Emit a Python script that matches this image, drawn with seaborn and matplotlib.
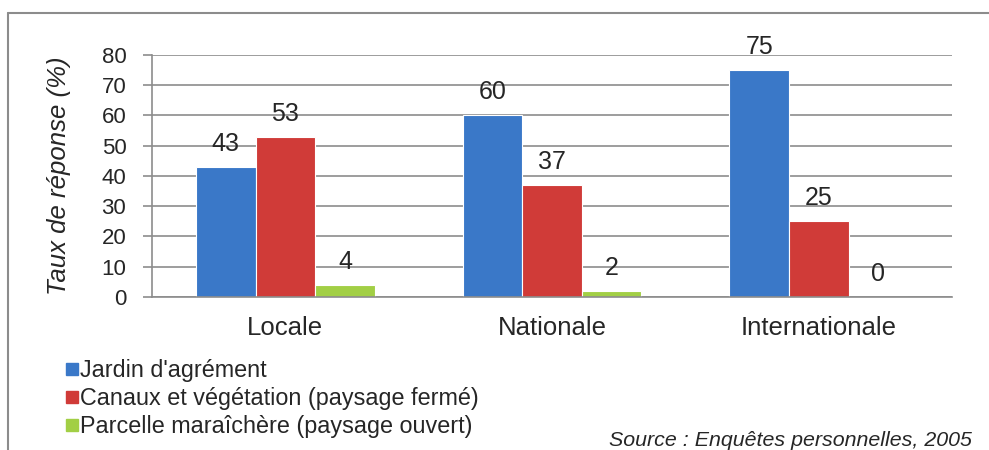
import pandas as pd
import matplotlib.pyplot as plt
import seaborn as sns
from matplotlib.lines import Line2D

# Chart data
categories = ["Locale", "Nationale", "Internationale"]
series_names = ["Jardin d'agrément",
                "Canaux et végétation (paysage fermé)",
                "Parcelle maraîchère (paysage ouvert)"]
jardin = [43, 60, 75]
canaux = [53, 37, 25]
parcelle = [4, 2, 0]
colors = ["#3a78c8", "#d03b38", "#a2cf45"]

rows = []
for name, vals in zip(series_names, [jardin, canaux, parcelle]):
    for cat, v in zip(categories, vals):
        rows.append({"Portée": cat, "Type": name, "Taux": v})
df = pd.DataFrame(rows)

sns.set_style("white")
plt.rcParams['font.family'] = ['Liberation Sans', 'DejaVu Sans']

fig = plt.figure(figsize=(9.89, 4.5), dpi=100)
ax = fig.add_axes([0.1537, 0.34, 0.809, 0.5378])

sns.barplot(data=df, x="Portée", y="Taux", hue="Type", palette=colors,
            saturation=1, width=0.67, edgecolor="white", linewidth=0.8,
            ax=ax, legend=False)

for cont in ax.containers:
    ax.bar_label(cont, padding=8, fontsize=18)

ax.set_ylim(0, 80)
ax.set_yticks(range(0, 81, 10))
ax.yaxis.grid(True, color="#8c8c8c", linewidth=1.2)
ax.set_axisbelow(True)
for s in ["top", "right"]:
    ax.spines[s].set_visible(False)
for s in ["left", "bottom"]:
    ax.spines[s].set_color("#8c8c8c")
    ax.spines[s].set_linewidth(1.2)
ax.tick_params(axis="y", left=True, length=6.5, color="#8c8c8c", width=1.2,
               labelsize=16, pad=12)
ax.tick_params(axis="x", bottom=False, labelsize=18.5, pad=10)
ax.set_xlabel("")
ax.set_ylabel("Taux de réponse (%)", fontsize=18.5, style="italic", labelpad=22)

# legend below the plot
handles = [Line2D([], [], marker="s", linestyle="", markersize=9,
                  markerfacecolor=c, markeredgecolor=c) for c in colors]
fig.legend(handles, series_names, loc="upper left", bbox_to_anchor=(0.055, 0.222),
           frameon=False, fontsize=16.8, handletextpad=0.0, labelspacing=0.2,
           borderaxespad=0, handlelength=0.7)

fig.text(0.983, 1 - 440 / 450, "Source : Enquêtes personnelles, 2005",
         ha="right", va="center", fontsize=15.4, style="italic")

# outer frame (top and left edges)
frame_col = "#8c8c8c"
y_top = 1 - 13 / 450
x_left = 8 / 989
fig.add_artist(Line2D([x_left, 1], [y_top, y_top], color=frame_col, linewidth=1.5,
                      transform=fig.transFigure))
fig.add_artist(Line2D([x_left, x_left], [0, y_top], color=frame_col, linewidth=1.5,
                      transform=fig.transFigure))

fig.savefig("out.png", dpi=100)
